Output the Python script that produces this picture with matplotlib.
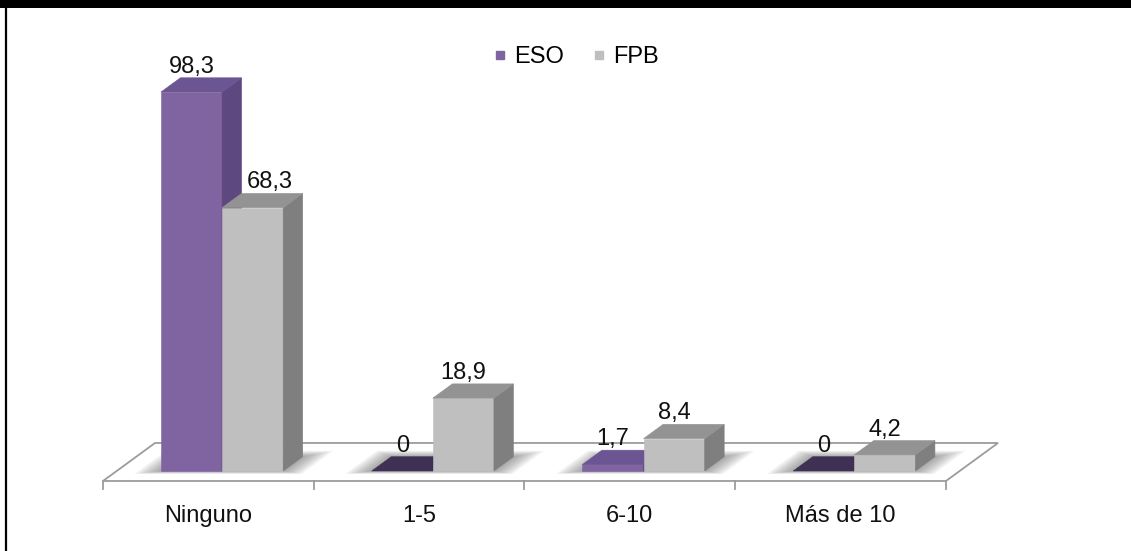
import matplotlib.pyplot as plt
from matplotlib.patches import Polygon, Rectangle
from matplotlib.lines import Line2D

plt.rcParams['font.family'] = ['Liberation Sans', 'DejaVu Sans']

categories = ['Ninguno', '1-5', '6-10', 'Más de 10']
series_names = ['ESO', 'FPB']
eso = [98.3, 0, 1.7, 0]
fpb = [68.3, 18.9, 8.4, 4.2]

# face colours per series: front, side, top, flat (bar of zero height)
ESO_COLORS = ('#8064A2', '#5E4880', '#6C5593', '#3E3153')
FPB_COLORS = ('#BFBFBF', '#7F7F7F', '#939393', '#939393')

# fake 3D: one unit of depth moves a point this far in x (categories) and y (values)
DEPTH_X = 0.247
DEPTH_Y = 9.86
FLOOR_Y = -2.59     # front edge of the floor plate
BAR_D0 = 0.263      # depth of the bar front faces
BAR_DEPTH = 0.375
BAR_W = 0.29


def proj(x, v, d):
    return (x + d * DEPTH_X, v + FLOOR_Y + d * DEPTH_Y)


def face(ax, pts, color, z=3):
    ax.add_patch(Polygon(pts, closed=True, fc=color, ec=color, lw=0.4, zorder=z))


def draw_bar(ax, x0, value, colors):
    front, side, top, flat = colors
    d0, d1 = BAR_D0, BAR_D0 + BAR_DEPTH
    x1 = x0 + BAR_W
    if value > 0:
        face(ax, [proj(x0, 0, d0), proj(x1, 0, d0), proj(x1, value, d0), proj(x0, value, d0)], front)
        face(ax, [proj(x1, 0, d0), proj(x1, 0, d1), proj(x1, value, d1), proj(x1, value, d0)], side)
    face(ax, [proj(x0, value, d0), proj(x1, value, d0), proj(x1, value, d1), proj(x0, value, d1)],
         top if value > 0 else flat)


def draw_shadow(ax, xl, xr):
    # soft blurred footprint of a bar group on the floor
    d0, d1 = BAR_D0, BAR_D0 + BAR_DEPTH
    for k in range(1, 13):
        ex = 0.009 * k
        ed = 0.013 * k
        pts = [proj(xl - ex, 0, d0 - ed * 0.5), proj(xr + ex, 0, d0 - ed * 0.5),
               proj(xr + ex, 0, d1 + ed), proj(xl - ex, 0, d1 + ed)]
        ax.add_patch(Polygon(pts, closed=True, fc='#555555', ec='none', alpha=0.05, zorder=2))


fig = plt.figure(figsize=(11.31, 5.51), dpi=100)
ax = fig.add_axes([0, 0, 1, 1])
ax.set_xlim(-0.4887, 4.878)
ax.set_ylim(-20.75, 122.18)
ax.axis('off')

n = len(categories)

# floor plate
floor = [proj(0, 0, 0), proj(n, 0, 0), proj(n, 0, 1), proj(0, 0, 1)]
ax.add_patch(Polygon(floor, closed=True, fc='white', ec='#9c9c9c', lw=1.3, zorder=1))
for i in range(n + 1):
    ax.plot([i, i], [FLOOR_Y, FLOOR_Y - 2.1], color='#9c9c9c', lw=1.3, zorder=1)

for i, cat in enumerate(categories):
    left = i + 0.5 - BAR_W
    draw_shadow(ax, left, i + 0.5 + BAR_W)
    draw_bar(ax, left, eso[i], ESO_COLORS)
    draw_bar(ax, i + 0.5, fpb[i], FPB_COLORS)
    ax.text(i + 0.5, -13.2, cat, ha='center', va='baseline', fontsize=17, color='#111111')

# value labels above each bar; the tall FPB one is pushed right off the ESO bar
nudge = {(0, 1): 12}
for i in range(n):
    for s, vals in enumerate([eso, fpb]):
        v = vals[i]
        xc = i + 0.5 - BAR_W + s * BAR_W + BAR_W / 2
        x_front = proj(xc, v, BAR_D0)[0]
        y_back = proj(xc, v, BAR_D0 + BAR_DEPTH)[1]
        txt = ('%g' % v).replace('.', ',')
        ax.annotate(txt, (x_front, y_back), xytext=(nudge.get((i, s), 0), 3.6),
                    textcoords='offset points', ha='center', va='baseline',
                    fontsize=17, color='#111111', zorder=5)

handles = [Line2D([], [], marker='s', ls='', color=c[0], markersize=6) for c in (ESO_COLORS, FPB_COLORS)]
ax.legend(handles, series_names, loc='center', bbox_to_anchor=(576 / 1131, 1 - 57 / 551),
          bbox_transform=fig.transFigure, ncol=2, frameon=False, fontsize=17,
          handlelength=0.6, handletextpad=0.3, columnspacing=1.2)

# black band on top and the left frame line
fig.patches.append(Rectangle((0, 1 - 8 / 551), 1, 8 / 551, transform=fig.transFigure,
                             fc='black', ec='none', zorder=10))
fig.lines.append(Line2D([6 / 1131, 6 / 1131], [0, 1], transform=fig.transFigure,
                        color='black', lw=1.6, zorder=10))

fig.savefig('out.png', dpi=100)
